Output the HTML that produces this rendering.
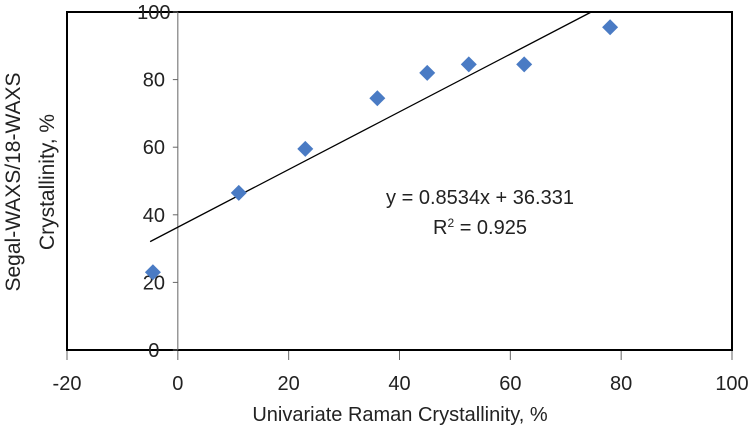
<!DOCTYPE html>
<html><head><meta charset="utf-8"><style>
body{margin:0;background:#fff;}
svg text{font-family:"Liberation Sans",sans-serif;fill:#222;}
</style></head><body>
<svg id="chart" width="756" height="443" viewBox="0 0 756 443" xmlns="http://www.w3.org/2000/svg">
<rect x="67" y="12" width="665" height="338" fill="#fff" stroke="#000" stroke-width="2"/>
<g id="grid"></g>
<g id="marks"></g>
<text x="480" y="204" font-size="20" text-anchor="middle">y = 0.8534x + 36.331</text>
<text x="480" y="234" font-size="20" text-anchor="middle">R<tspan font-size="12" dy="-7">2</tspan><tspan dy="7"> = 0.925</tspan></text>
<text x="400" y="421" font-size="20" text-anchor="middle">Univariate Raman Crystallinity, %</text>
<text transform="translate(20,182) rotate(-90)" font-size="21" text-anchor="middle"><tspan x="0" dy="0">Segal-WAXS/18-WAXS</tspan><tspan x="0" dy="34">Crystallinity, %</tspan></text>
</svg>
<script>
const xTicks=[-20,0,20,40,60,80,100];
const yTicks=[0,20,40,60,80,100];
const xVals=[-4.5,11,23,36,45,52.5,62.5,78];
const yVals=[23,46.5,59.5,74.5,82,84.5,84.5,95.5];
const slope=0.8534, intercept=36.331;
const NS='http://www.w3.org/2000/svg';
const X=v=>67+(v+20)*665/120;
const Y=v=>350-v*338/100;
const g=document.getElementById('grid'), m=document.getElementById('marks');
function mk(t,a,p){const e=document.createElementNS(NS,t);for(const k in a)e.setAttribute(k,a[k]);p.appendChild(e);return e;}
const ax=mk('line',{x1:X(0),x2:X(0),y1:Y(100),y2:Y(0),stroke:'#666','stroke-width':1},g);


xTicks.forEach(v=>{
 const t=mk('line',{x1:X(v),x2:X(v),y1:351,y2:360,stroke:'#666'},g);
 
 
 const l=mk('text',{x:X(v),y:390,'font-size':20,'text-anchor':'middle'},g);l.textContent=v;
 
 
});
yTicks.forEach(v=>{
 const t=mk('line',{x1:X(0)-5,x2:X(0),y1:Y(v),y2:Y(v),stroke:'#666'},g);
 
 
 const l=mk('text',{x:X(0)-24,y:Y(v)+7,'font-size':20,'text-anchor':'middle'},g);l.textContent=v;
 
 
});
const x0=-5, x1=(100-intercept)/slope;
const tl=mk('line',{x1:X(x0),y1:Y(slope*x0+intercept),x2:X(x1),y2:Y(100),stroke:'#000','stroke-width':1.3},m);


xVals.forEach((v,i)=>{
 const cx=X(v),cy=Y(yVals[i]),r=8;
 const p=mk('polygon',{points:`${cx},${cy-r} ${cx+r},${cy} ${cx},${cy+r} ${cx-r},${cy}`,fill:'#4a7bc4'},m);
 
 
});
</script>
</body></html>
